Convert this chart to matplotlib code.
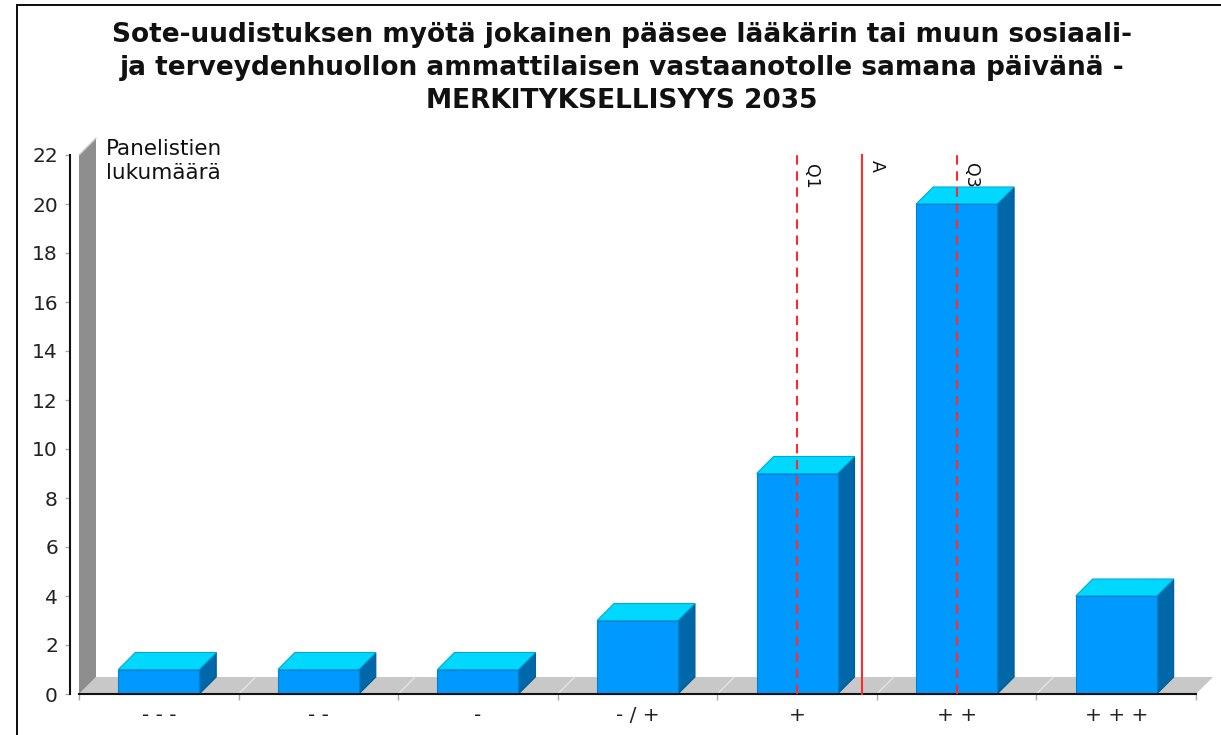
import matplotlib
matplotlib.use('Agg')
import matplotlib.pyplot as plt
from matplotlib.patches import Polygon, Rectangle
from matplotlib.transforms import IdentityTransform
import numpy as np

# ---- data ----
categories = ['- - -', '- -', '-', '- / +', '+', '+ +', '+ + +']
counts = [1, 1, 1, 3, 9, 20, 4]
q1_value = 5        # on the 1..7 category scale
mean_value = 5.41
q3_value = 6
y_ticks = [0, 2, 4, 6, 8, 10, 12, 14, 16, 18, 20, 22]
title = ('Sote-uudistuksen myötä jokainen pääsee lääkärin tai muun sosiaali-\n'
         'ja terveydenhuollon ammattilaisen vastaanotolle samana päivänä -\n'
         'MERKITYKSELLISYYS 2035')
ylabel = 'Panelistien\nlukumäärä'
stat_labels = ['Q1', 'A', 'Q3']

# ---- layout ----
W, H = 1221, 735
DPI = 100
fig = plt.figure(figsize=(W / DPI, H / DPI), dpi=DPI)
fig.patch.set_facecolor('white')
ax = fig.add_axes([79 / W, 1 - 694 / H, (1196 - 79) / W, (694 - 155) / H])
ax.set_xlim(-0.5, len(categories) - 0.5)
ax.set_ylim(0, 22)
ax.set_autoscale_on(False)
ax.patch.set_alpha(0)

D = 17  # 3D depth in pixels
ident = IdentityTransform()


def px(x, y):
    return ax.transData.transform((x, y))


def poly(pts, **kw):
    p = Polygon(pts, closed=True, transform=ident, clip_on=False, **kw)
    ax.add_patch(p)
    return p


# floor
x_lo, x_hi = ax.get_xlim()
b0 = px(x_lo, 0)
b1 = px(x_hi, 0)
poly([b0, b1, b1 + [D, D], b0 + [D, D]], facecolor='#c8c8c8', edgecolor='none', zorder=1)
# wall
t0 = px(x_lo, 22)
poly([b0, t0, t0 + [D, D], b0 + [D, D]], facecolor='#8e8e8e', edgecolor='none', zorder=1)
ax.plot([t0[0], t0[0] + D], [t0[1], t0[1] + D], transform=ident, color='#d0d0d0',
        lw=1, clip_on=False, zorder=1.2)
# floor separator lines
for b in np.arange(0.5, len(categories) - 0.5, 1):
    p0 = px(b, 0)
    ax.plot([p0[0], p0[0] + D], [p0[1], p0[1] + D], transform=ident,
            color='#e4e4e4', lw=1, clip_on=False, zorder=1.3)

# bars
bw = 0.507
for i, v in enumerate(counts):
    x0, y0 = px(i - bw / 2, 0)
    x1, y1 = px(i + bw / 2, v)
    # side
    poly([(x1, y0), (x1, y1), (x1 + D, y1 + D), (x1 + D, y0 + D)],
         facecolor='#0068a8', edgecolor='#005a94', lw=0.8, zorder=2)
    # top
    poly([(x0, y1), (x1, y1), (x1 + D, y1 + D), (x0 + D, y1 + D)],
         facecolor='#00d8ff', edgecolor='#00a8d8', lw=0.8, zorder=2)
    # front
    ax.add_patch(Rectangle((i - bw / 2, 0), bw, v, facecolor='#0099ff',
                           edgecolor='#0080d0', lw=0.8, zorder=2.1, clip_on=False))

# statistic lines
stat_x = [q1_value - 1, mean_value - 1, q3_value - 1]
styles = [(0, (4.5, 3.2)), '-', (0, (4.5, 3.2))]
text_off = [(5, -9), (5, -5), (5, -8)]
for xv, ls, lab, off in zip(stat_x, styles, stat_labels, text_off):
    ax.plot([xv, xv], [0, 22], color='#ff2a2a', lw=1.5, linestyle=ls, zorder=3, clip_on=False)
    ax.annotate(lab, xy=(xv, 22), xytext=off, textcoords='offset pixels',
                rotation=-90, ha='left', va='top', fontsize=12.5, color='#111111', zorder=4)

# spines / ticks
for s in ['top', 'right']:
    ax.spines[s].set_visible(False)
ax.spines['left'].set_position(('outward', 9 * 72 / DPI))
ax.spines['left'].set_linewidth(1.5)
ax.spines['left'].set_color('#111111')
ax.spines['bottom'].set_linewidth(1.5)
ax.spines['bottom'].set_color('#111111')
ax.spines['bottom'].set_zorder(2.5)

ax.set_yticks(y_ticks)
ax.set_yticklabels([str(t) for t in y_ticks])
ax.tick_params(axis='y', length=5 * 72 / DPI, width=1, color='#aaaaaa',
               labelsize=14.5, labelcolor='#222222', pad=7 * 72 / DPI)

ax.set_xticks(np.arange(-0.5, len(categories), 1))
ax.set_xticklabels([])
ax.set_xticks(np.arange(len(categories)), minor=True)
ax.set_xticklabels(categories, minor=True)
ax.tick_params(axis='x', which='major', length=6 * 72 / DPI, width=1, color='#aaaaaa')
ax.tick_params(axis='x', which='minor', length=0, labelsize=14.5,
               labelcolor='#222222', pad=12 * 72 / DPI)

# texts
fig.text(106 / W, 1 - 139 / H, ylabel, ha='left', va='top', fontsize=15.5,
         color='#111111', linespacing=1.22)
fig.text(622 / W, 1 - 22 / H, title, ha='center', va='top', fontsize=19,
         fontweight='bold', color='#111111', linespacing=1.36)

# figure border
fig.patches.append(Rectangle((17 / W, -0.1), 1.2, 1 - 5 / H + 0.1, transform=fig.transFigure,
                             fill=False, edgecolor='#111111', lw=2 * 72 / DPI))

fig.savefig('out.png', dpi=DPI)
